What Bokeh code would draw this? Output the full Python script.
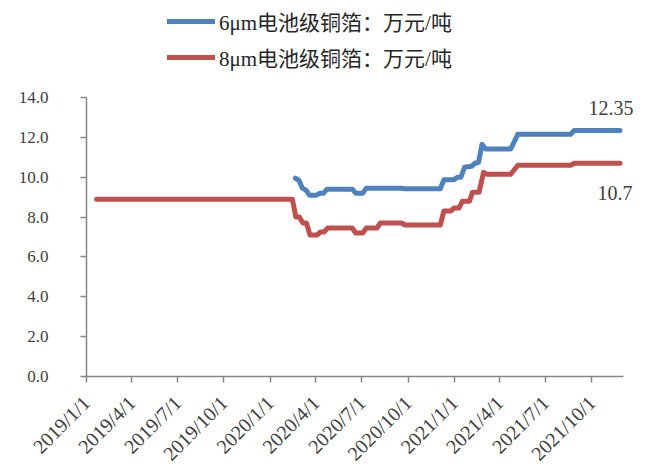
import math
import pandas as pd
from bokeh.plotting import figure
from bokeh.models import (Range1d, Legend, LegendItem, FixedTicker,
                          DatetimeTickFormatter, NumeralTickFormatter, ColumnDataSource)
from bokeh.core.properties import value
from bokeh.embed import file_html
from bokeh.resources import INLINE

# Battery-grade copper foil prices (10k CNY / tonne)
dates_6um = ["2020-02-20", "2020-02-27", "2020-03-05", "2020-03-12", "2020-03-19",
             "2020-04-02", "2020-04-09", "2020-04-16", "2020-04-23", "2020-06-12",
             "2020-06-19", "2020-07-03", "2020-07-10", "2020-09-18", "2020-09-25",
             "2020-12-04", "2020-12-11", "2020-12-31", "2021-01-07", "2021-01-14",
             "2021-01-21", "2021-02-04", "2021-02-11", "2021-02-18", "2021-02-25",
             "2021-03-04", "2021-04-23", "2021-05-07", "2021-08-20", "2021-08-27",
             "2021-11-26"]
price_6um = [9.95, 9.85, 9.45, 9.35, 9.1,
             9.1, 9.2, 9.2, 9.4, 9.4,
             9.2, 9.2, 9.45, 9.45, 9.42,
             9.42, 9.87, 9.87, 10.0, 10.0,
             10.5, 10.55, 10.7, 10.75, 11.65,
             11.42, 11.42, 12.15, 12.15, 12.35,
             12.35]

dates_8um = ["2019-01-21", "2020-02-14", "2020-02-21", "2020-02-28", "2020-03-06",
             "2020-03-13", "2020-03-20", "2020-04-03", "2020-04-10", "2020-04-17",
             "2020-04-24", "2020-06-12", "2020-06-19", "2020-07-03", "2020-07-10",
             "2020-07-31", "2020-08-07", "2020-09-18", "2020-09-25", "2020-12-04",
             "2020-12-11", "2020-12-25", "2020-12-31", "2021-01-10", "2021-01-17",
             "2021-01-31", "2021-02-06", "2021-02-19", "2021-02-28", "2021-03-06",
             "2021-04-23", "2021-05-07", "2021-08-20", "2021-08-27", "2021-11-26"]
price_8um = [8.9, 8.9, 8.0, 8.0, 7.7,
             7.7, 7.1, 7.1, 7.25, 7.25,
             7.45, 7.45, 7.2, 7.2, 7.45,
             7.45, 7.7, 7.7, 7.6, 7.6,
             8.3, 8.3, 8.45, 8.45, 8.8,
             8.8, 9.25, 9.25, 10.25, 10.15,
             10.15, 10.6, 10.6, 10.7, 10.7]

label_6um = "6μm电池级铜箔：万元/吨"
label_8um = "8μm电池级铜箔：万元/吨"

tick_dates = ["2019-01-01", "2019-04-01", "2019-07-01", "2019-10-01",
              "2020-01-01", "2020-04-01", "2020-07-01", "2020-10-01",
              "2021-01-01", "2021-04-01", "2021-07-01", "2021-10-01"]
y_ticks = [0, 2, 4, 6, 8, 10, 12, 14]

BLUE = "#4F81BD"
RED = "#C0504D"
AXIS = "#868686"
TEXT = "#404040"
FONT = "Liberation Serif, Noto Sans CJK SC"

x6 = pd.to_datetime(dates_6um)
x8 = pd.to_datetime(dates_8um)

# axis extents; the frame is made larger so legend and end labels sit inside it
x_start = pd.Timestamp("2019-01-01")
x_axis_end = pd.Timestamp("2021-12-03")
W, H = 650, 466
LEFT, RIGHT, BOTTOM = 86, 2, 90
axis_px_w = 537          # pixels covered by the visible x axis
axis_px_h = 279          # pixels covered by the visible y axis (0..14)
frame_w = W - LEFT - RIGHT
frame_h = H - BOTTOM
x_end = x_start + (x_axis_end - x_start) * (frame_w / axis_px_w)
y_end = 14 * frame_h / axis_px_h

p = figure(frame_width=frame_w, frame_height=frame_h, x_axis_type="datetime",
           output_backend="svg", toolbar_location=None,
           min_border_left=LEFT, min_border_right=RIGHT,
           min_border_top=0, min_border_bottom=BOTTOM,
           x_range=Range1d(x_start, x_end),
           y_range=Range1d(0, y_end))
p.outline_line_color = None
p.grid.visible = False
p.background_fill_color = "white"
p.border_fill_color = "white"

r6 = p.line(x6, price_6um, line_color=BLUE, line_width=5, line_join="round", line_cap="round")
r8 = p.line(x8, price_8um, line_color=RED, line_width=5, line_join="round", line_cap="round")

# end-of-series value labels
end_src = ColumnDataSource(dict(x=[x6[-1], x8[-1]],
                                y=[price_6um[-1], price_8um[-1]],
                                t=[f"{price_6um[-1]:g}", f"{price_8um[-1]:g}"],
                                dx=[-9, -5],
                                dy=[-22, 30]))
p.text(x="x", y="y", text="t", x_offset="dx", y_offset="dy", source=end_src,
       text_align="center", text_baseline="middle",
       text_font=value("Liberation Serif"), text_font_size="20px", text_color=TEXT)

# axes
xa = p.xaxis[0]
xa.ticker = FixedTicker(ticks=[pd.Timestamp(d).value / 1e6 for d in tick_dates])
xa.formatter = DatetimeTickFormatter(days="%Y/%-m/%-d", months="%Y/%-m/%-d",
                                     years="%Y/%-m/%-d")
xa.major_label_orientation = math.pi / 4
xa.bounds = (x_start.value / 1e6, x_axis_end.value / 1e6)
xa.major_label_standoff = 17

ya = p.yaxis[0]
ya.ticker = FixedTicker(ticks=y_ticks)
ya.formatter = NumeralTickFormatter(format="0.0")
ya.bounds = (0, 14)
ya.major_label_standoff = 32

for ax, fs in ((xa, "20px"), (ya, "17px")):
    ax.axis_line_color = AXIS
    ax.axis_line_width = 1.5
    ax.major_tick_line_color = AXIS
    ax.major_tick_line_width = 1.5
    ax.major_tick_out = 6
    ax.major_tick_in = 0
    ax.minor_tick_line_color = None
    ax.major_label_text_font = "Liberation Serif"
    ax.major_label_text_font_size = fs
    ax.major_label_text_color = TEXT

legend = Legend(items=[LegendItem(label=label_6um, renderers=[r6]),
                       LegendItem(label=label_8um, renderers=[r8])],
                location=(81, frame_h - 72), orientation="vertical")
legend.border_line_color = None
legend.background_fill_alpha = 0
legend.label_text_font = FONT
legend.label_text_font_size = "21px"
legend.label_text_color = "#262626"
legend.glyph_width = 48
legend.glyph_height = 20
legend.label_height = 20
legend.label_standoff = 4
legend.spacing = 6
legend.padding = 0
legend.margin = 0
p.add_layout(legend, "center")

open("out.html", "w").write(file_html(p, INLINE))
